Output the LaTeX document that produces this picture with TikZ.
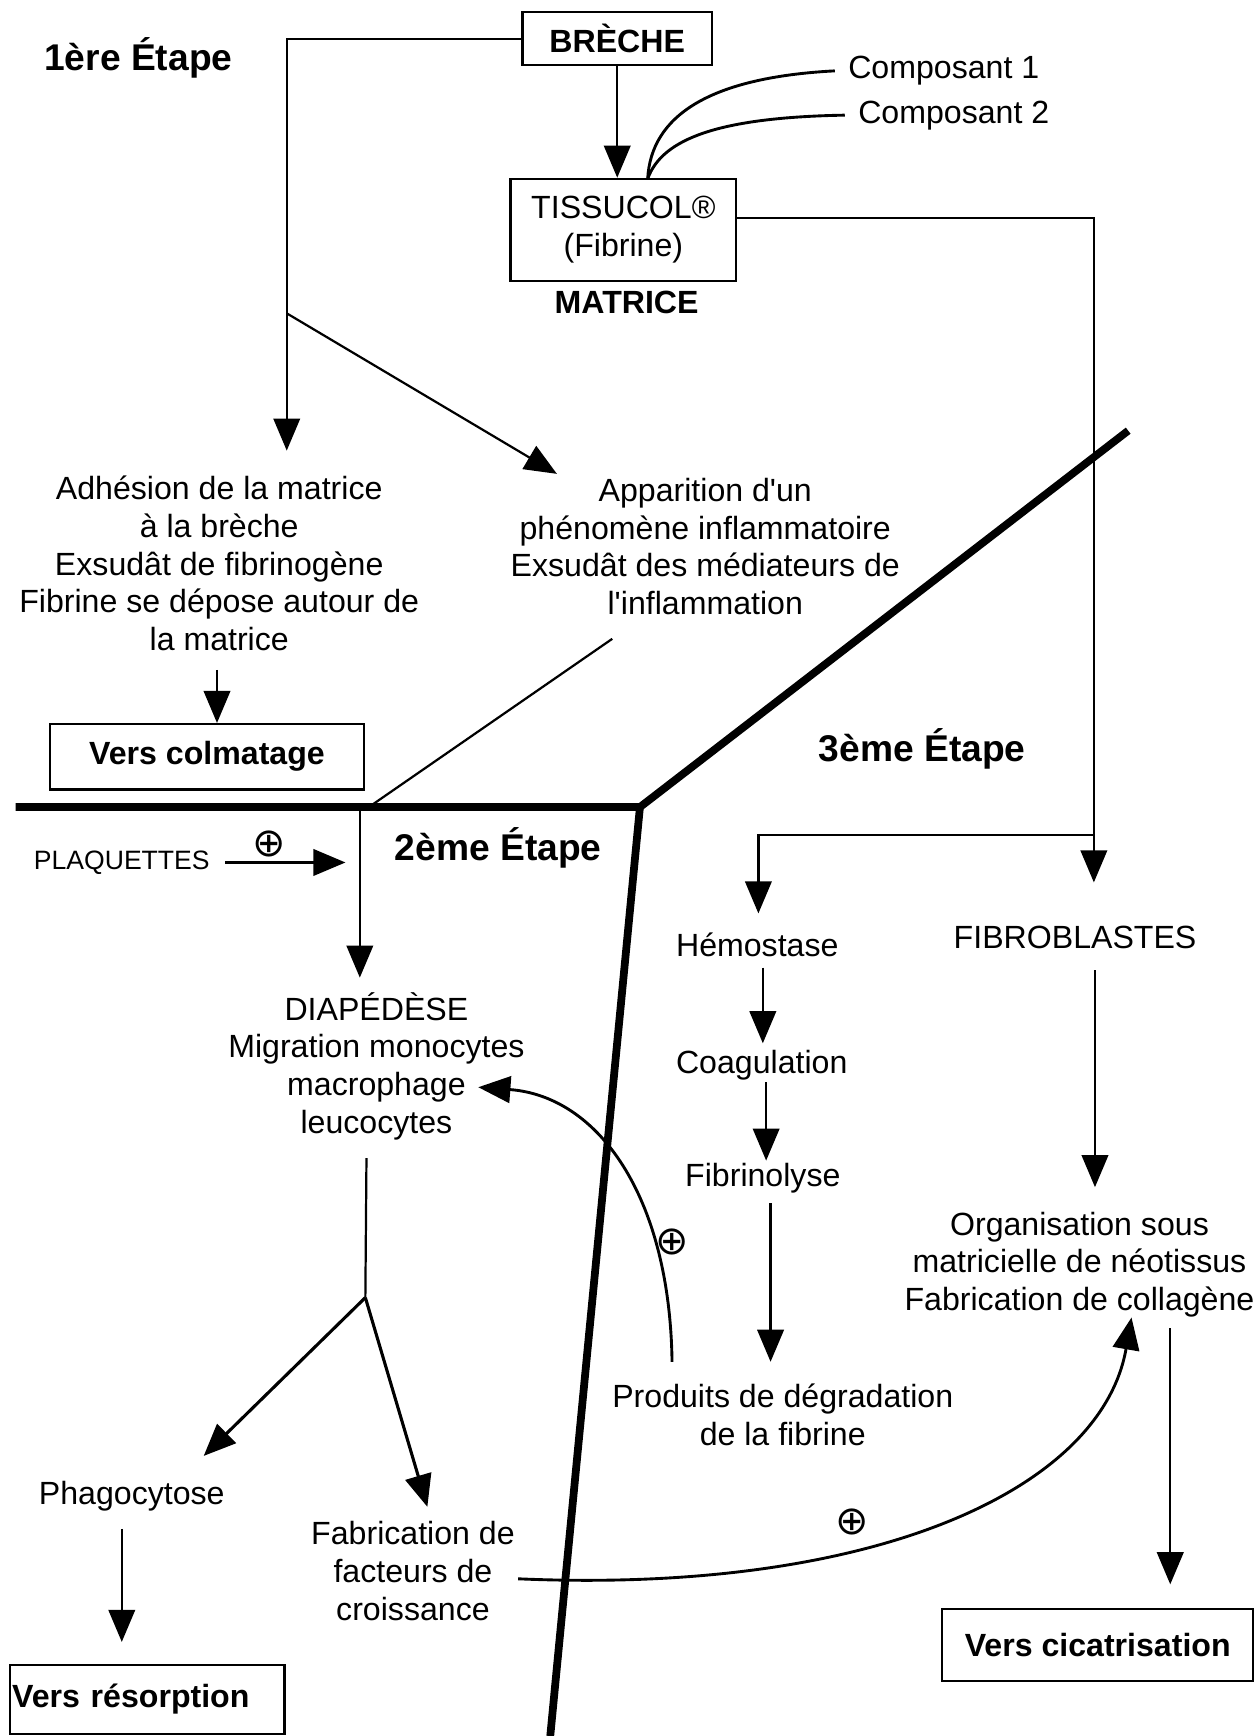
\documentclass[tikz,border=0pt]{standalone}
\usepackage{fontspec}
\setmainfont{Liberation Sans}
\newfontfamily\dejavu{DejaVu Sans}
\usetikzlibrary{arrows.meta}
\newcommand{\plussign}{{\dejavu\fontsize{36}{38}\selectfont ⊕}}

\begin{document}
\begin{tikzpicture}[x=1pt,y=-1pt,
		txt/.style={font=\fontsize{29}{34}\selectfont,align=center,inner sep=0pt},
		boldtxt/.style={font=\fontsize{29}{34}\selectfont\bfseries,align=center,inner sep=0pt},
		etape/.style={font=\fontsize{33.6}{40}\selectfont\bfseries,inner sep=0pt},
		boxnode/.style={draw,line width=2pt},
		flow/.style={line width=2pt},
		arrow/.style={flow,-{Triangle[length=29pt,width=24pt]}},
		curvearrow/.style={line width=2.6pt,-{Triangle[length=29pt,width=24pt]}},
		wall/.style={line width=7pt}]
					\useasboundingbox (0,0) rectangle (1134,1568);
					\node[boxnode,boldtxt,minimum width=171pt,minimum height=48pt] (breche) at (557.5,35) {BRÈCHE};
					\node[boxnode,txt,minimum width=204pt,minimum height=92pt] (tissucol) at (563,207.5) {TISSUCOL®\\(Fibrine)};
					\node[boldtxt] (matrice) at (566,273) {MATRICE};
					\node[txt,anchor=west,inner xsep=12pt] (comp1) at (754,64) {Composant 1};
					\node[txt,anchor=west,inner xsep=12pt] (comp2) at (763,104) {Composant 2};
					\node[etape] (etape1) at (125,52) {1ère Étape};
					\node[etape] (etape2) at (450,766) {2ème Étape};
					\node[etape] (etape3) at (833,676) {3ème Étape};
					\node[txt] (adhesion) at (198,509) {Adhésion de la matrice\\à la brèche\\Exsudât de fibrinogène\\Fibrine se dépose autour de\\la matrice};
					\node[txt] (apparition) at (637,493.5) {Apparition d\textquotesingle un\\phénomène inflammatoire\\Exsudât des médiateurs de\\l\textquotesingle inflammation};
					\node[boxnode,boldtxt,minimum width=284pt,minimum height=59pt] (colmatage) at (187,683.5) {Vers colmatage};
					\node[font=\fontsize{24}{28}\selectfont,inner sep=0pt] (plaquettes) at (110,779) {PLAQUETTES};
					\node[inner sep=0pt] (plusplaq) at (243,762) {\plussign};
					\node[txt] (diapedese) at (340,963) {DIAPÉDÈSE\\Migration monocytes\\macrophage\\leucocytes};
					\node[txt] (hemostase) at (684,853) {Hémostase};
					\node[txt] (coagulation) at (688,962) {Coagulation};
					\node[txt] (fibrinolyse) at (689,1064) {Fibrinolyse};
					\node[txt] (produits) at (707,1278) {Produits de dégradation\\de la fibrine};
					\node[txt] (fibroblastes) at (971,847) {FIBROBLASTES};
					\node[txt] (organisation) at (975,1142) {Organisation sous\\matricielle de néotissus\\Fabrication de collagène};
					\node[txt] (phagocytose) at (119,1351) {Phagocytose};
					\node[txt] (fabrication) at (373,1419) {Fabrication de\\facteurs de\\croissance};
					\node[boxnode,boldtxt,minimum width=248pt,minimum height=62pt,text width=244pt,align=left] (resorption) at (133,1535) {Vers résorption};
					\node[boxnode,boldtxt,minimum width=281pt,minimum height=65pt] (cicatrisation) at (991.5,1485.5) {Vers cicatrisation};
					\node[inner sep=0pt] (plusdeg) at (607,1122) {\plussign};
					\node[inner sep=0pt] (plusfac) at (770,1375) {\plussign};
					\coordinate (leftsplit) at (259,283);
					\coordinate (adhtip) at (259,407);
					\coordinate (apptip) at (503,428);
					\coordinate (mix) at (585,161.5);
					\coordinate (fibrotip) at (988,797);
					\coordinate (hemsplit) at (988,754);
					\coordinate (hemotip) at (685,825);
					\coordinate (wallW) at (14,729);
					\coordinate (wallC) at (578,729);
					\coordinate (wallNE) at (1019,389);
					\coordinate (wallS) at (497,1568);
					\coordinate (infltop) at (553,577);
					\coordinate (inflfoot) at (336,727);
					\coordinate (diaptop) at (325,731);
					\coordinate (diaptip) at (325,883);
					\coordinate (plaqtip) at (312,779);
					\coordinate (colmtop) at (196,605);
					\coordinate (diapfoot) at (331,1046);
					\coordinate (fork) at (330,1172);
					\coordinate (phagtip) at (184,1315);
					\coordinate (factip) at (386,1361);
					\coordinate (phagfoot) at (110,1381);
					\coordinate (degtop) at (607,1230);
					\coordinate (macrotip) at (432,982);
					\coordinate (facstart) at (468,1426);
					\coordinate (colltip) at (1022,1190);
					\draw[wall] (wallW) -- (wallC) -- (wallNE);
					\draw[wall] (wallC) -- (wallS);
					\draw[arrow] (breche.west) -| (adhtip);
					\draw[arrow] (leftsplit) -- (apptip);
					\draw[arrow] (breche.south) -- (breche.south |- tissucol.north);
					\draw[line width=2.6pt] (comp1.west) .. controls (640,70) and (588,105) .. (mix);
					\draw[line width=2.6pt] (comp2.west) .. controls (650,106) and (598,125) .. (mix);
					\draw[arrow] ([yshift=10.5pt]tissucol.east) -| (fibrotip);
					\draw[arrow] (hemsplit) -| (hemotip);
					\draw[flow] (infltop) -- (inflfoot);
					\draw[arrow] (diaptop) -- (diaptip);
					\draw[arrow] (plaquettes.east) ++(14,0) -- (plaqtip);
					\draw[arrow] (colmtop) -- (colmtop |- colmatage.north);
					\draw[flow] (diapfoot) -- (fork);
					\draw[arrow,line width=2.8pt] (fork) -- (phagtip);
					\draw[arrow,line width=2.8pt] (fork) -- (factip);
					\draw[arrow,shorten >=20pt] (phagfoot) -- (phagfoot |- resorption.north);
					\draw[arrow,shorten <=10pt,shorten >=6pt] (hemostase.south -| 689,0) -- (coagulation.north -| 689,0);
					\draw[arrow,shorten <=2pt,shorten >=2pt] (coagulation.south -| 692,0) -- (fibrinolyse.north -| 692,0);
					\draw[arrow,shorten <=9pt,shorten >=20pt] (fibrinolyse.south -| 696,0) -- (produits.north -| 696,0);
					\draw[arrow,shorten <=19pt,shorten >=22pt] (fibroblastes.south -| 989,0) -- (organisation.north -| 989,0);
					\draw[arrow,shorten <=10pt,shorten >=21pt] (organisation.south -| 1057,0) -- (cicatrisation.north -| 1057,0);
					\draw[curvearrow] (degtop) .. controls (605,1080) and (540,990) .. (macrotip);
					\draw[curvearrow] (facstart) .. controls (790,1440) and (995,1345) .. (colltip);
				\end{tikzpicture}
\end{document}
